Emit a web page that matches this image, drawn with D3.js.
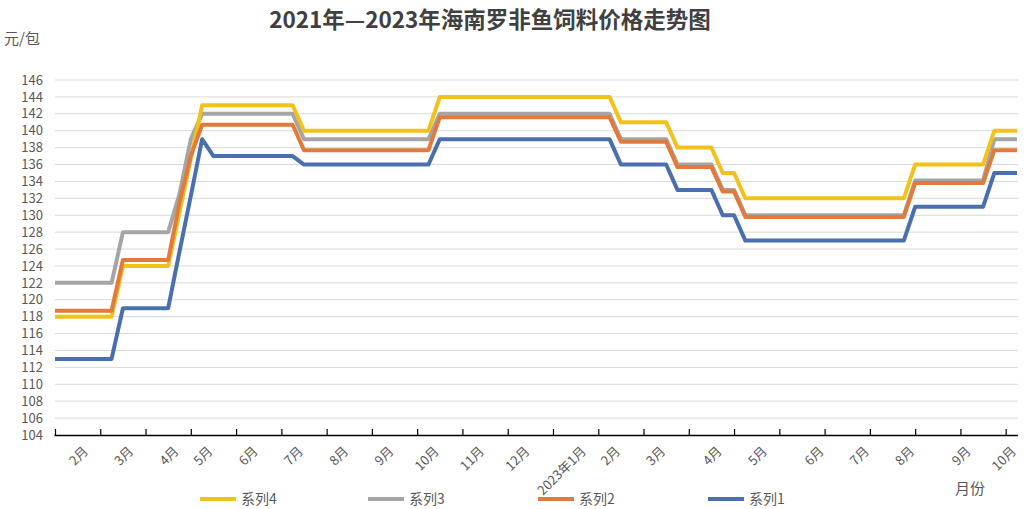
<!DOCTYPE html>
<html><head><meta charset="utf-8">
<script src="https://cdn.jsdelivr.net/npm/d3@7"></script>
<style>html,body{margin:0;padding:0;background:#fff;}</style>
</head><body>
<svg id="chart" width="1027" height="509"></svg>
<script>
// ---- data ----
const monthLabels = ["2月","3月","4月","5月","6月","7月","8月","9月","10月","11月","12月","2023年1月","2月","3月","4月","5月","6月","7月","8月","9月","10月"];
const monthIndex  = [3,7,11,14,18,22,26,30,34,38,42,47,50,54,59,63,68,72,76,81,85];
const nPoints = 86;
const yTicks = [104,106,108,110,112,114,116,118,120,122,124,126,128,130,132,134,136,138,140,142,144,146];
const seriesNames = ["系列4","系列3","系列2","系列1"];

function runs(parts){ const out=[]; parts.forEach(([v,n])=>{for(let i=0;i<n;i++)out.push(v);}); return out; }
// values per weekly category (86 points)
const series1 = runs([[113,6],[119,5],[125.7,1],[132.3,1],[139,1],[137,8],[136,12],[139,16],[136,5],[133,4],[130,2],[127,15],[131,7],[135,3]]);
const series2 = runs([[118.7,6],[124.7,5],[131.5,1],[137,1],[140.7,9],[137.7,12],[141.6,16],[138.7,5],[135.7,4],[132.8,2],[129.8,15],[133.8,7],[137.7,3]]);
const series3 = runs([[122,6],[128,5],[132.5,1],[139,1],[142,9],[139,12],[142,16],[139,5],[136,4],[133,2],[130,15],[134.1,7],[139,3]]);
const series4 = runs([[118,6],[124,5],[130.3,1],[136.7,1],[143,9],[140,12],[144,16],[141,5],[138,4],[135,2],[132,15],[136,7],[140,3]]);

const colors = {"系列1":"#4a6fae","系列2":"#e07b3c","系列3":"#a5a5a5","系列4":"#f2c21b"};
const dataBy = {"系列1":series1,"系列2":series2,"系列3":series3,"系列4":series4};

const svg = d3.select("#chart");
svg.append("rect").attr("width",1027).attr("height",509).attr("fill","#fff");
const font = "'Noto Sans CJK SC','Noto Sans',sans-serif";

const x = d3.scaleLinear().domain([0,nPoints-1]).range([55,1017]);
const y = d3.scaleLinear().domain([104,146]).range([435,80]);

// title
svg.append("text").attr("x",490).attr("y",28).attr("text-anchor","middle")
  .attr("font-family",font).attr("font-weight","bold").attr("font-size",22.5).attr("fill","#404040")
  .text("2021年—2023年海南罗非鱼饲料价格走势图");
svg.append("text").attr("x",4).attr("y",44).attr("font-family",font).attr("font-size",15).attr("fill","#595959").text("元/包");
svg.append("text").attr("x",955).attr("y",494).attr("font-family",font).attr("font-size",15).attr("fill","#595959").text("月份");

// grid
svg.append("g").selectAll("line").data(yTicks.filter(d=>d>104)).join("line")
  .attr("x1",55).attr("x2",1018).attr("y1",d=>y(d)).attr("y2",d=>y(d))
  .attr("stroke","#d9d9d9").attr("stroke-width",1);

// y axis labels
const yAxis = svg.append("g").attr("transform","translate(55,0)")
  .call(d3.axisLeft(y).tickValues(yTicks).tickSize(0).tickPadding(12).tickFormat(d3.format("d")));
yAxis.select(".domain").remove();
yAxis.selectAll("text").attr("font-family",font).attr("font-size",13).attr("fill","#595959");

// x axis
const xAxis = svg.append("g").attr("transform","translate(0,435)")
  .call(d3.axisBottom(x).tickValues(d3.range(0,nPoints,4)).tickSize(-6).tickFormat(""));
xAxis.select(".domain").attr("d","M54.5,0.5H1018").attr("stroke","#000").attr("stroke-width",1.3);
xAxis.selectAll(".tick line").attr("stroke","#000").attr("stroke-width",1.2);

svg.append("g").selectAll("text").data(monthLabels).join("text")
  .attr("transform",(d,i)=>`translate(${x(monthIndex[i])},452) rotate(-45)`)
  .attr("text-anchor","end").attr("font-family",font).attr("font-size",13).attr("fill","#595959")
  .text(d=>d);

// lines
const line = d3.line().x((d,i)=>x(i)).y(d=>y(d));
["系列3","系列4","系列2","系列1"].forEach(name=>{
  svg.append("path").datum(dataBy[name]).attr("d",line)
    .attr("fill","none").attr("stroke",colors[name]).attr("stroke-width",4)
    .attr("stroke-linejoin","round");
});

// legend
const legX = [200,368,538,708];
const leg = svg.append("g").selectAll("g").data(seriesNames).join("g")
  .attr("transform",(d,i)=>`translate(${legX[i]},499)`);
leg.append("line").attr("x1",0).attr("x2",36).attr("y1",0).attr("y2",0)
  .attr("stroke",d=>colors[d]).attr("stroke-width",4);
leg.append("text").attr("x",41).attr("y",5).attr("font-family",font).attr("font-size",14).attr("fill","#595959").text(d=>d);
</script>
</body></html>
